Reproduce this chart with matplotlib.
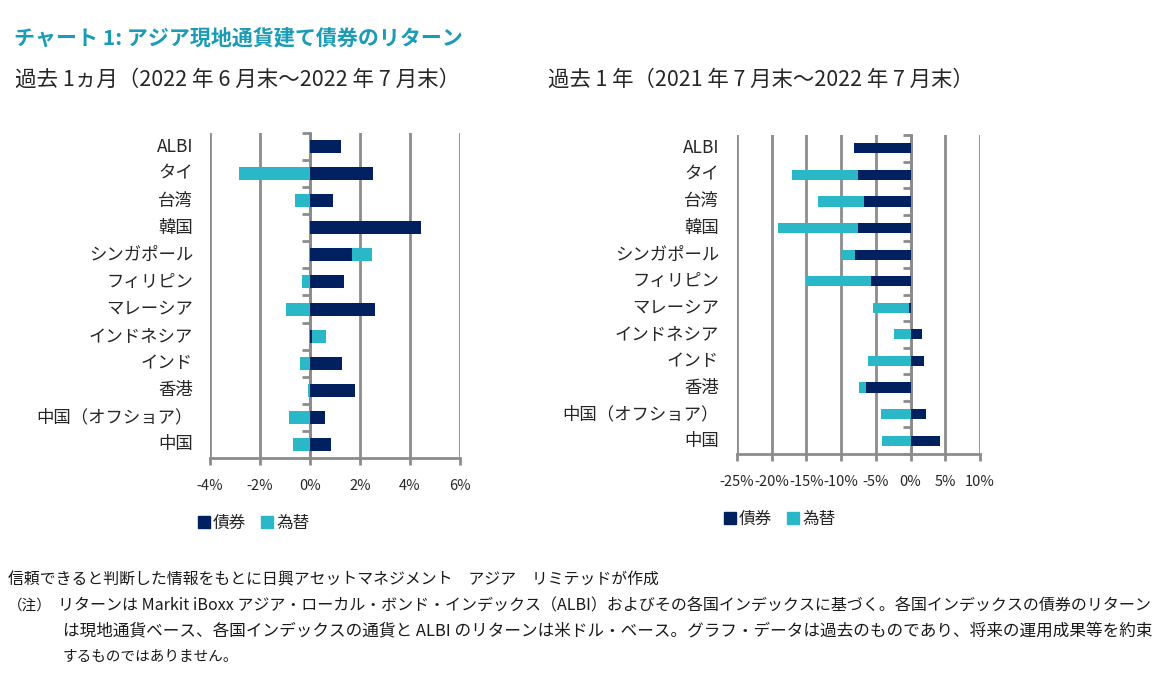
import matplotlib
matplotlib.use("Agg")
import matplotlib.pyplot as plt
from matplotlib.patches import Patch
from matplotlib.transforms import blended_transform_factory

plt.rcParams['font.family'] = ['Noto Sans CJK JP', 'DejaVu Sans']

# ---------------- data ----------------
categories = ["ALBI", "タイ", "台湾", "韓国", "シンガポール", "フィリピン", "マレーシア",
              "インドネシア", "インド", "香港", "中国（オフショア）", "中国"]
series_names = ["債券", "為替"]

bond_1m = [1.23, 2.52, 0.92, 4.45, 1.69, 1.35, 2.60, 0.07, 1.27, 1.80, 0.59, 0.83]
fx_1m   = [0.00, -2.85, -0.60, 0.00, 0.79, -0.32, -0.96, 0.56, -0.40, -0.08, -0.84, -0.68]

bond_1y = [-8.20, -7.58, -6.77, -7.58, -7.97, -5.76, -0.19, 1.58, 1.87, -6.43, 2.22, 4.28]
fx_1y   = [0.00, -9.47, -6.63, -11.50, -1.97, -9.37, -5.29, -2.45, -6.10, -1.01, -4.27, -4.18]

ticks_1m = [-4, -2, 0, 2, 4, 6]
ticks_1y = [-25, -20, -15, -10, -5, 0, 5, 10]

title = "チャート 1: アジア現地通貨建て債券のリターン"
sub_1m = "過去 1ヵ月（2022 年 6 月末～2022 年 7 月末）"
sub_1y = "過去 1 年（2021 年 7 月末～2022 年 7 月末）"
notes = [
    "信頼できると判断した情報をもとに日興アセットマネジメント　アジア　リミテッドが作成",
    "リターンは Markit iBoxx アジア・ローカル・ボンド・インデックス（ALBI）およびその各国インデックスに基づく。各国インデックスの債券のリターン",
    "は現地通貨ベース、各国インデックスの通貨と ALBI のリターンは米ドル・ベース。グラフ・データは過去のものであり、将来の運用成果等を約束",
    "するものではありません。",
]

NAVY = "#002060"
CYAN = "#2AB8C8"
GRID = "#8C8C8C"
TEXT = "#262626"
TEAL = "#1B9BB6"

W, H = 1163, 678
fig = plt.figure(figsize=(W / 100, H / 100), dpi=100)


def px_axes(x0, y0, x1, y1):
    return fig.add_axes([x0 / W, 1 - y1 / H, (x1 - x0) / W, (y1 - y0) / H])


def draw_chart(ax, bond, fx, ticks, xlim, bar_h, label_x):
    n = len(categories)
    ys = list(range(n))
    fx_left = [b if (b * f > 0) else 0 for b, f in zip(bond, fx)]
    ax.barh(ys, bond, height=bar_h, color=NAVY, zorder=3)
    ax.barh(ys, fx, left=fx_left, height=bar_h, color=CYAN, zorder=3)
    ax.set_xlim(*xlim)
    ax.set_ylim(n - 0.5, -0.5)
    ax.set_xticks(ticks)
    ax.set_xticklabels([f"{t}%" for t in ticks], fontsize=10.5, color=TEXT)
    ax.tick_params(axis='x', length=5, width=2, color=GRID, pad=10)
    ax.grid(axis='x', color=GRID, linewidth=2, zorder=0)
    for s in ['top', 'right']:
        ax.spines[s].set_visible(False)
    ax.spines['bottom'].set_color(GRID)
    ax.spines['bottom'].set_linewidth(2)
    ax.spines['left'].set_position(('data', 0))
    ax.spines['left'].set_color(GRID)
    ax.spines['left'].set_linewidth(2)
    ax.spines['left'].set_zorder(2)
    ax.set_yticks([i + 0.5 for i in range(-1, n)])
    ax.set_yticklabels([])
    ax.tick_params(axis='y', length=6, width=2, color=GRID, direction='out')
    tr = blended_transform_factory(ax.transAxes, ax.transData)
    for i, c in enumerate(categories):
        ax.text(label_x, i, c, transform=tr, ha='right', va='center',
                fontsize=12.5, color=TEXT)
    ax.set_axisbelow(True)


ax1 = px_axes(210, 133, 460, 458)
draw_chart(ax1, bond_1m, fx_1m, ticks_1m, (-4, 6), 0.48, -0.068)

ax2 = px_axes(737, 135, 980, 454)
draw_chart(ax2, bond_1y, fx_1y, ticks_1y, (-25, 10), 0.38, -0.074)

handles = [Patch(color=NAVY, label=series_names[0]), Patch(color=CYAN, label=series_names[1])]
for (lx, ly) in [(198, 515), (724, 511)]:
    fig.legend(handles=handles, loc='upper left', bbox_to_anchor=(lx / W, 1 - ly / H),
               frameon=False, ncol=2, fontsize=12, handlelength=0.7, handleheight=0.7,
               handletextpad=0.2, columnspacing=0.9, borderaxespad=0, borderpad=0,
               labelcolor=TEXT)

renderer = fig.canvas.get_renderer()


def fit_text(x, y, s, width, fs, **kw):
    t = fig.text(x / W, 1 - y / H, s, fontsize=fs, va='center', ha='left', **kw)
    bb = t.get_window_extent(renderer=renderer)
    if width:
        t.set_fontsize(fs * width / bb.width)
    return t


fit_text(14, 38, title, 449, 12.5, color=TEAL, fontweight='bold')
fit_text(15, 80, sub_1m, 447, 14, color=TEXT)
fit_text(548, 80, sub_1y, 427, 14, color=TEXT)

fit_text(8, 580, notes[0], 654, 10.5, color="#1a1a1a")
fig.text(8 / W, 1 - 606 / H, "（注）", fontsize=10.5, va='center', ha='left', color="#1a1a1a")
fit_text(58, 606, notes[1], 1097, 10.5, color="#1a1a1a")
fit_text(63, 632, notes[2], 1092, 10.5, color="#1a1a1a")
fig.text(63 / W, 1 - 657 / H, notes[3], fontsize=10.5, va='center', ha='left', color="#1a1a1a")

fig.savefig("out.png", dpi=100)
